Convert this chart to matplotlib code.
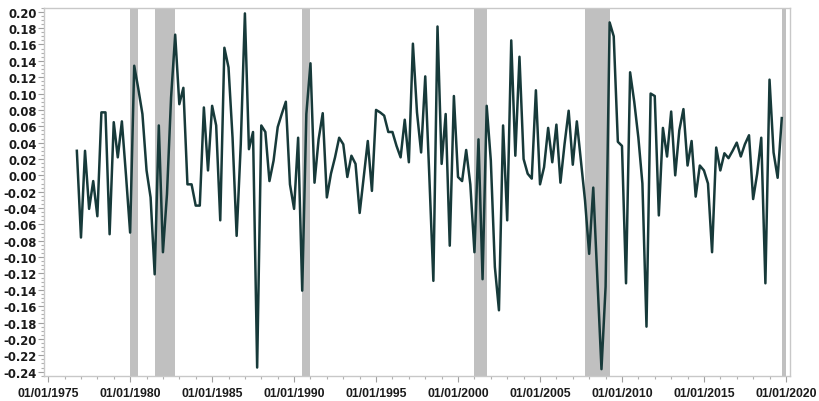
import matplotlib
matplotlib.use("Agg")
import matplotlib.pyplot as plt
import matplotlib.dates as mdates
from matplotlib.ticker import MultipleLocator, FormatStrFormatter
import pandas as pd

# Quarterly growth series, 1976Q4 - 2019Q4
start_date = "1976-10-01"
growth = [
    0.030, -0.076, 0.030, -0.041, -0.007, -0.050, 0.077, 0.077, -0.072, 0.065,
    0.022, 0.066, 0.000, -0.070, 0.134, 0.106, 0.075, 0.006, -0.027, -0.121,
    0.061, -0.094, -0.023, 0.095, 0.172, 0.087, 0.107, -0.011, -0.011, -0.037,
    -0.037, 0.083, 0.006, 0.085, 0.061, -0.055, 0.156, 0.132, 0.046, -0.074,
    0.038, 0.198, 0.032, 0.053, -0.235, 0.061, 0.053, -0.007, 0.018, 0.059,
    0.075, 0.090, -0.011, -0.041, 0.046, -0.141, 0.075, 0.137, -0.009, 0.044,
    0.076, -0.027, 0.002, 0.022, 0.046, 0.038, -0.002, 0.024, 0.014, -0.046,
    -0.002, 0.042, -0.019, 0.080, 0.077, 0.073, 0.053, 0.053, 0.036, 0.022,
    0.068, 0.016, 0.161, 0.077, 0.028, 0.121, 0.000, -0.129, 0.182, 0.014,
    0.075, -0.086, 0.097, -0.002, -0.007, 0.031, -0.011, -0.094, 0.044, -0.127,
    0.085, 0.018, -0.112, -0.165, 0.061, -0.055, 0.165, 0.024, 0.145, 0.020,
    0.002, -0.004, 0.104, -0.011, 0.010, 0.058, 0.016, 0.062, -0.009, 0.038,
    0.079, 0.013, 0.066, 0.018, -0.031, -0.096, -0.015, -0.125, -0.237, -0.136,
    0.187, 0.170, 0.041, 0.036, -0.132, 0.126, 0.090, 0.046, -0.010, -0.185,
    0.100, 0.097, -0.049, 0.058, 0.023, 0.078, 0.000, 0.055, 0.081, 0.012,
    0.042, -0.026, 0.012, 0.006, -0.010, -0.094, 0.034, 0.006, 0.027, 0.021,
    0.030, 0.040, 0.023, 0.038, 0.049, -0.029, 0.002, 0.046, -0.132, 0.117,
    0.028, -0.003, 0.070,
]

# Recession periods (shaded)
recession_starts = ["1980-01-01", "1981-07-01", "1990-07-01", "2001-01-01", "2007-10-01", "2019-10-01"]
recession_ends = ["1980-07-01", "1982-10-01", "1991-01-01", "2001-10-01", "2009-04-01", "2020-01-01"]

LINE_COLOR = "#173a3a"
SHADE_COLOR = "#c0c0c0"
FRAME_COLOR = "#c8c8c8"
TEXT_COLOR = "#1a1a1a"

plt.rcParams["axes.unicode_minus"] = False

dates = pd.date_range(start_date, periods=len(growth), freq="QS")
df = pd.DataFrame({"date": dates, "growth": growth})

fig = plt.figure(figsize=(8.2, 4.02), dpi=100)
ax = fig.add_axes([0.0537, 0.0629, 0.9097, 0.9155])

for s, e in zip(recession_starts, recession_ends):
    ax.axvspan(pd.Timestamp(s), pd.Timestamp(e), color=SHADE_COLOR, lw=0, zorder=1)

ax.plot(df["date"], df["growth"], color=LINE_COLOR, lw=1.8, zorder=3)

ax.set_xlim(pd.Timestamp("1974-10-01"), pd.Timestamp("2020-04-01"))
ax.set_ylim(-0.245, 0.205)

# Axis ticks
ax.xaxis.set_major_locator(mdates.YearLocator(5))
ax.xaxis.set_minor_locator(mdates.YearLocator(1))
ax.xaxis.set_major_formatter(mdates.DateFormatter("%d/%m/%Y"))
ax.yaxis.set_major_locator(MultipleLocator(0.02))
ax.yaxis.set_minor_locator(MultipleLocator(0.005))
ax.yaxis.set_major_formatter(FormatStrFormatter("%.2f"))

ax.tick_params(axis="both", which="major", length=4, width=0.8, color="#a0a0a0")
ax.tick_params(axis="both", which="minor", length=2, width=0.8, color="#b0b0b0")
ax.tick_params(axis="y", which="both", pad=1)
ax.tick_params(axis="x", which="major", pad=4)

for lbl in ax.get_yticklabels():
    lbl.set_fontfamily("DejaVu Sans")
    lbl.set_fontweight("bold")
    lbl.set_fontsize(8.4)
    lbl.set_color(TEXT_COLOR)
for lbl in ax.get_xticklabels():
    lbl.set_fontfamily("Liberation Sans")
    lbl.set_fontweight("bold")
    lbl.set_fontsize(8.8)
    lbl.set_color(TEXT_COLOR)

for spine in ax.spines.values():
    spine.set_color(FRAME_COLOR)
    spine.set_linewidth(1.0)

fig.savefig("out.png", dpi=100, facecolor="white")
